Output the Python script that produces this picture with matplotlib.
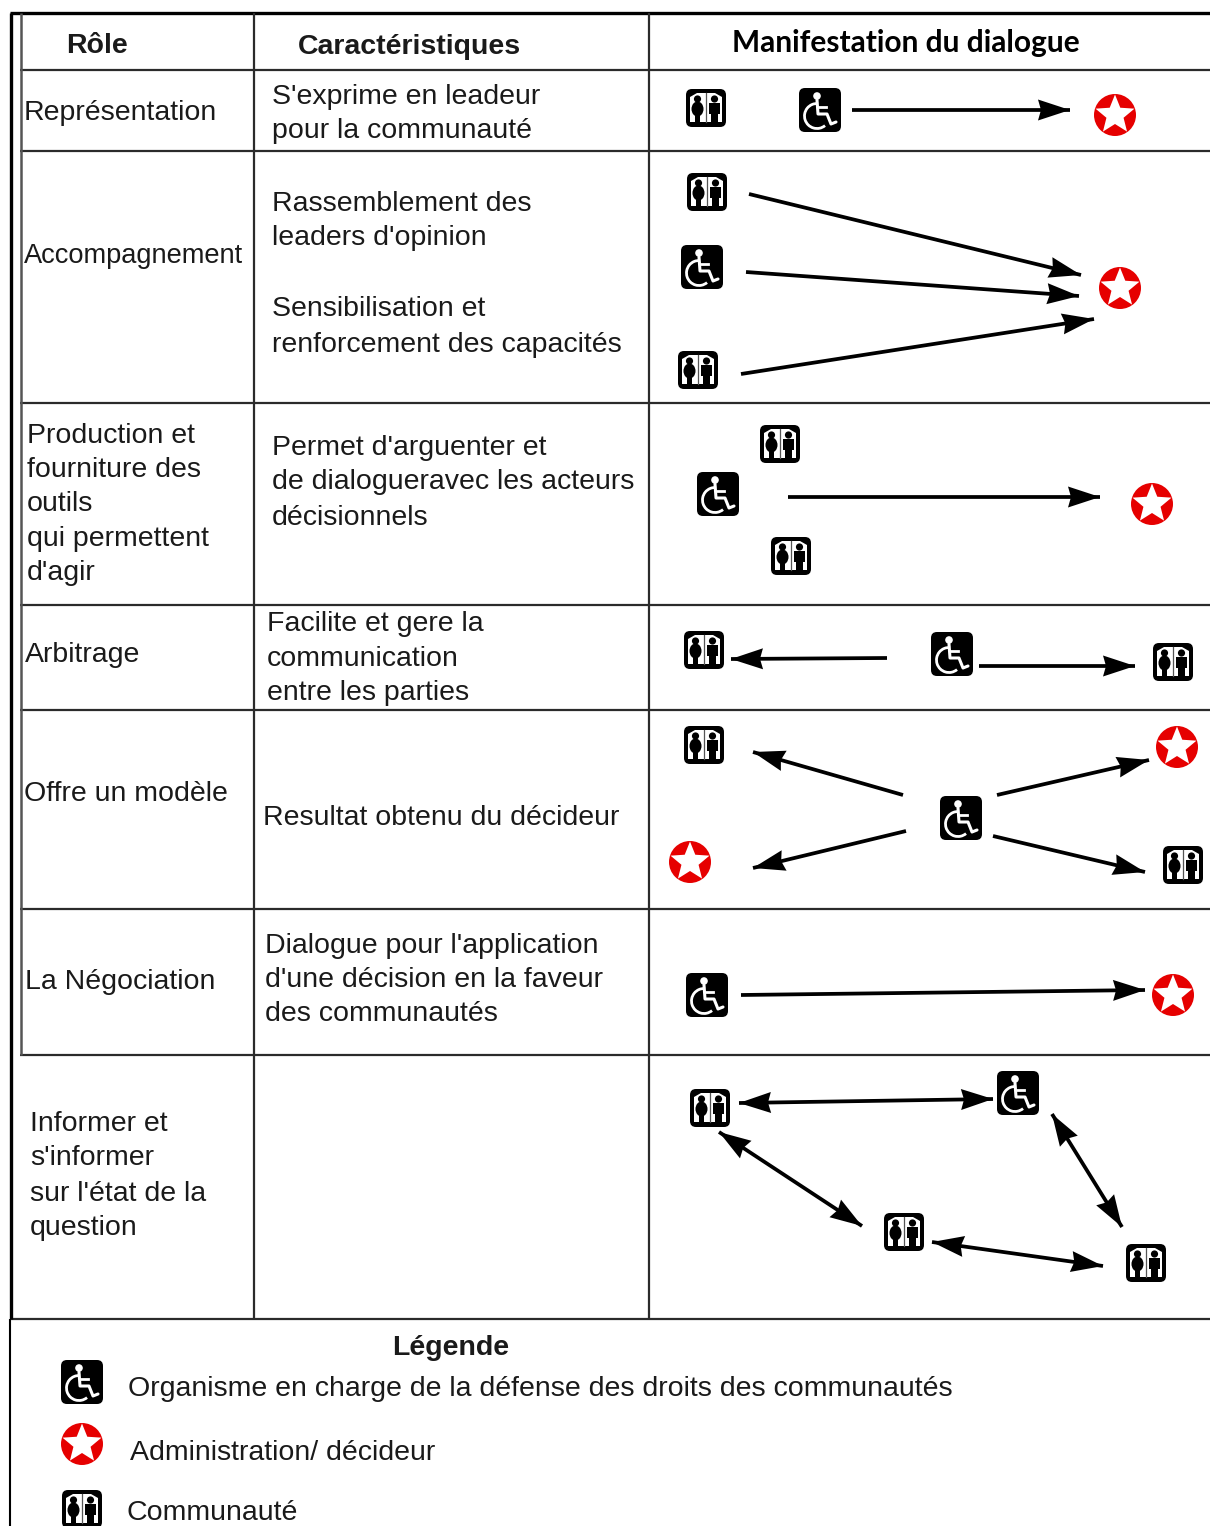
import matplotlib
matplotlib.use('Agg')
import matplotlib.pyplot as plt
from matplotlib.patches import Circle, Ellipse, FancyBboxPatch, Polygon, Rectangle, Arc
import math

plt.rcParams['font.family'] = ['Liberation Sans', 'DejaVu Sans']

W, H = 1210, 1526

row_lines = [70, 151, 403, 605, 710, 909, 1055]
col_lines = [254, 649]

headers = [('Rôle', 66, 46), ('Caractéristiques', 298, 47)]
header_right = ('Manifestation du dialogue', 732, 43)

role_lines = [
    ('Représentation', 24, 113),
    ('Accompagnement', 24, 256),
    ('Production et', 27, 436),
    ('fourniture des', 27, 470),
    ('outils', 27, 504),
    ('qui permettent', 27, 539),
    ("d'agir", 27, 573),
    ('Arbitrage', 25, 655),
    ('Offre un modèle', 24, 794),
    ('La Négociation', 25, 982),
    ('Informer et', 30, 1124),
    ("s'informer", 30, 1158),
    ("sur l'état de la", 30, 1194),
    ('question', 30, 1228),
]

carac_lines = [
    ("S'exprime en leadeur", 272, 97),
    ('pour la communauté', 272, 131),
    ('Rassemblement des', 272, 204),
    ("leaders d'opinion", 272, 238),
    ('Sensibilisation et', 272, 309),
    ('renforcement des capacités', 272, 345),
    ("Permet d'arguenter et", 272, 448),
    ('de dialogueravec les acteurs', 272, 482),
    ('décisionnels', 272, 518),
    ('Facilite et gere la', 267, 624),
    ('communication', 267, 659),
    ('entre les parties', 267, 693),
    ('Resultat obtenu du décideur', 263, 818),
    ("Dialogue pour l'application", 265, 946),
    ("d'une décision en la faveur", 265, 980),
    ('des communautés', 265, 1014),
]

legend_title = ('Légende', 392, 1348)
legend_lines = [
    ('Organisme en charge de la défense des droits des communautés', 128, 1389),
    ('Administration/ décideur', 130, 1453),
    ('Communauté', 126, 1513),
]

community_icons = [(706, 108), (707, 192), (698, 370), (780, 444), (791, 556),
                   (704, 650), (1173, 662), (704, 745), (1183, 865), (710, 1108),
                   (904, 1232), (1146, 1263), (82, 1509)]
org_icons = [(820, 110), (702, 267), (718, 494), (952, 654), (961, 818),
             (707, 995), (1018, 1093), (82, 1382)]
admin_icons = [(1115, 115), (1120, 288), (1152, 504), (1177, 747), (690, 862),
               (1173, 995), (82, 1444)]

single_arrows = [
    (852, 110, 1070, 110),
    (749, 194, 1081, 275),
    (746, 272, 1079, 296),
    (741, 374, 1094, 319),
    (788, 497, 1100, 497),
    (887, 658, 731, 659),
    (979, 666, 1135, 666),
    (903, 795, 753, 752),
    (906, 831, 753, 868),
    (997, 795, 1149, 760),
    (993, 836, 1145, 872),
    (741, 995, 1145, 990),
]
double_arrows = [
    (739, 1103, 993, 1099),
    (1052, 1114, 1122, 1227),
    (719, 1132, 862, 1226),
    (932, 1242, 1103, 1266),
]

fig = plt.figure(figsize=(W / 100, H / 100), dpi=100)
ax = fig.add_axes([0, 0, 1, 1])
ax.set_xlim(0, W)
ax.set_ylim(H, 0)
ax.axis('off')

LINE = '#2b2b2b'


def draw_community(cx, cy):
    ax.add_patch(FancyBboxPatch((cx - 20, cy - 19), 40, 38,
                                boxstyle='round,pad=0,rounding_size=6',
                                fc='black', ec='none', zorder=3))
    ax.add_patch(Polygon([(cx - 16, cy - 11), (cx - 9, cy - 15), (cx + 9, cy - 15),
                          (cx + 16, cy - 11), (cx + 16, cy + 14), (cx - 16, cy + 14)],
                         fc='white', ec='none', zorder=4))
    ax.plot([cx, cx], [cy - 15, cy + 14], color='#555555', lw=0.9, zorder=5)
    # woman on the left, man on the right
    ax.add_patch(Circle((cx - 8.5, cy - 9), 3.6, fc='black', ec='none', zorder=5))
    ax.add_patch(Ellipse((cx - 8.5, cy + 1), 12, 15, fc='black', ec='none', zorder=5))
    ax.add_patch(Rectangle((cx - 11, cy + 5), 5, 9, fc='black', ec='none', zorder=5))
    ax.add_patch(Circle((cx + 8.5, cy - 9), 3.6, fc='black', ec='none', zorder=5))
    ax.add_patch(Rectangle((cx + 3, cy - 5), 11, 11, fc='black', ec='none', zorder=5))
    ax.add_patch(Rectangle((cx + 5, cy + 3), 7, 11, fc='black', ec='none', zorder=5))


def draw_org(cx, cy):
    ax.add_patch(FancyBboxPatch((cx - 21, cy - 22), 42, 44,
                                boxstyle='round,pad=0,rounding_size=6',
                                fc='black', ec='none', zorder=3))
    ax.add_patch(Circle((cx - 3, cy - 14), 3.8, fc='white', ec='none', zorder=4))
    ax.plot([cx - 3, cx - 2, cx + 7, cx + 11, cx + 16],
            [cy - 10, cy + 4, cy + 4, cy + 14, cy + 12],
            color='white', lw=2.2, solid_capstyle='round', zorder=4)
    ax.plot([cx - 2, cx + 6], [cy - 3, cy - 3], color='white', lw=2, zorder=4)
    ax.add_patch(Arc((cx - 3, cy + 6), 25, 25, theta1=50, theta2=275,
                     color='white', lw=2, zorder=4))


def draw_admin(cx, cy):
    ax.add_patch(Circle((cx, cy), 21, fc='#e60000', ec='none', zorder=3))
    pts = []
    for i in range(10):
        r = 20.5 if i % 2 == 0 else 9
        a = math.radians(-90 + 36 * i)
        pts.append((cx + r * math.cos(a), cy + r * math.sin(a)))
    ax.add_patch(Polygon(pts, fc='white', ec='none', zorder=4))


def add_head(x0, y0, x1, y1):
    d = math.hypot(x1 - x0, y1 - y0)
    ux, uy = (x1 - x0) / d, (y1 - y0) / d
    bx, by = x1 - 32 * ux, y1 - 32 * uy
    nx, ny = x1 - 29 * ux, y1 - 29 * uy
    ax.add_patch(Polygon([(x1, y1), (bx - 10.5 * uy, by + 10.5 * ux), (nx, ny),
                          (bx + 10.5 * uy, by - 10.5 * ux)],
                         fc='black', ec='none', zorder=2))


def draw_arrow(x0, y0, x1, y1, both=False):
    ax.plot([x0, x1], [y0, y1], color='black', lw=2.7, zorder=2, solid_capstyle='butt')
    add_head(x0, y0, x1, y1)
    if both:
        add_head(x1, y1, x0, y0)


# grid
for y in row_lines:
    ax.plot([20, W], [y, y], color=LINE, lw=1.6, zorder=1, solid_capstyle='butt')
ax.plot([10, W], [1319, 1319], color=LINE, lw=1.6, zorder=1, solid_capstyle='butt')
ax.plot([10, W], [13, 13], color='black', lw=2.4, zorder=1, solid_capstyle='butt')
ax.plot([10.5, 10.5], [13, 1319], color='black', lw=2.4, zorder=1, solid_capstyle='butt')
ax.plot([9.5, 9.5], [1319, H], color='black', lw=1.5, zorder=1, solid_capstyle='butt')
ax.plot([20.5, 20.5], [13, 1055], color='#555555', lw=1.8, zorder=1, solid_capstyle='butt')
for x in col_lines:
    ax.plot([x, x], [13, 1319], color=LINE, lw=1.6, zorder=1, solid_capstyle='butt')

# text
for txt, x, y in headers:
    ax.text(x, y, txt, fontsize=20.5, fontweight='bold', color='#1a1a1a', va='center', ha='left')
ax.text(header_right[1], header_right[2], header_right[0], fontsize=21.5, fontweight='bold',
        family=['Lato', 'DejaVu Sans'], color='black', va='center', ha='left')
for txt, x, y in role_lines + carac_lines + legend_lines:
    size = 19.6 if txt == 'Accompagnement' else 20.5
    ax.text(x, y, txt, fontsize=size, color='#1a1a1a', va='center', ha='left')
ax.text(legend_title[1], legend_title[2], legend_title[0], fontsize=20.5, fontweight='bold',
        color='#1a1a1a', va='center', ha='left')

for a in single_arrows:
    draw_arrow(*a)
for a in double_arrows:
    draw_arrow(*a, both=True)

for cx, cy in community_icons:
    draw_community(cx, cy)
for cx, cy in org_icons:
    draw_org(cx, cy)
for cx, cy in admin_icons:
    draw_admin(cx, cy)

fig.savefig('out.png', dpi=100)
